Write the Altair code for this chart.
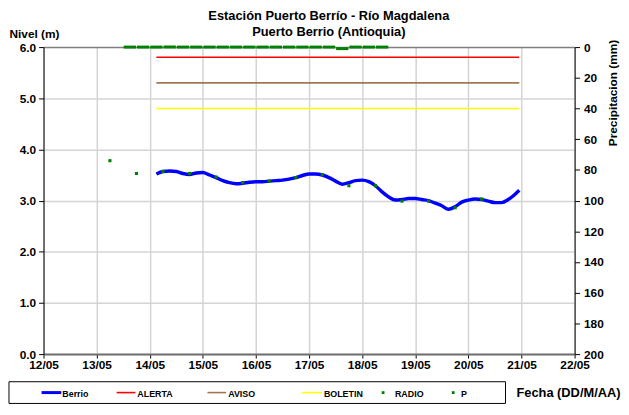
import altair as alt
import pandas as pd

# ---------------- data ----------------
berrio_time = [
    "2024-05-14T03:00", "2024-05-14T06:00", "2024-05-14T09:00", "2024-05-14T12:00",
    "2024-05-14T15:00", "2024-05-14T18:00", "2024-05-14T21:00", "2024-05-15T00:00",
    "2024-05-15T03:00", "2024-05-15T06:00", "2024-05-15T09:00", "2024-05-15T12:00",
    "2024-05-15T15:00", "2024-05-15T18:00", "2024-05-15T21:00", "2024-05-16T00:00",
    "2024-05-16T03:00", "2024-05-16T06:00", "2024-05-16T09:00", "2024-05-16T12:00",
    "2024-05-16T15:00", "2024-05-16T18:00", "2024-05-16T21:00", "2024-05-17T00:00",
    "2024-05-17T03:00", "2024-05-17T06:00", "2024-05-17T09:00", "2024-05-17T12:00",
    "2024-05-17T15:00", "2024-05-17T18:00", "2024-05-17T21:00", "2024-05-18T00:00",
    "2024-05-18T03:00", "2024-05-18T06:00", "2024-05-18T09:00", "2024-05-18T12:00",
    "2024-05-18T15:00", "2024-05-18T18:00", "2024-05-18T21:00", "2024-05-19T00:00",
    "2024-05-19T03:00", "2024-05-19T06:00", "2024-05-19T09:00", "2024-05-19T12:00",
    "2024-05-19T15:00", "2024-05-19T18:00", "2024-05-19T21:00", "2024-05-20T00:00",
    "2024-05-20T03:00", "2024-05-20T06:00", "2024-05-20T09:00", "2024-05-20T12:00",
    "2024-05-20T15:00", "2024-05-20T18:00", "2024-05-20T21:00", "2024-05-20T23:00",
]
berrio_level = [
    3.52, 3.57, 3.58, 3.57, 3.53, 3.51, 3.54, 3.55,
    3.50, 3.45, 3.39, 3.35, 3.33, 3.34, 3.36, 3.37,
    3.37, 3.38, 3.39, 3.40, 3.42, 3.45, 3.49, 3.52,
    3.52, 3.50, 3.45, 3.38, 3.32, 3.35, 3.39, 3.40,
    3.37, 3.29, 3.17, 3.07, 3.01, 3.02, 3.04, 3.04,
    3.02, 3.00, 2.95, 2.90, 2.83, 2.88, 2.97, 3.01,
    3.03, 3.02, 2.99, 2.96, 2.96, 3.02, 3.12, 3.20,
]

radio_time = [
    "2024-05-13T06:00", "2024-05-13T18:00", "2024-05-14T06:00", "2024-05-14T18:00",
    "2024-05-15T06:00", "2024-05-15T18:00", "2024-05-16T06:00", "2024-05-16T18:00",
    "2024-05-17T06:00", "2024-05-17T18:00", "2024-05-18T06:00", "2024-05-18T18:00",
    "2024-05-19T06:00", "2024-05-19T18:00", "2024-05-20T06:00",
]
radio_level = [3.78, 3.53, 3.57, 3.53, 3.46, 3.35, 3.38, 3.45,
               3.51, 3.29, 3.29, 2.99, 2.99, 2.86, 3.03]

p_time = [
    "2024-05-13T15:00", "2024-05-13T21:00", "2024-05-14T03:00", "2024-05-14T09:00",
    "2024-05-14T15:00", "2024-05-14T21:00", "2024-05-15T03:00", "2024-05-15T09:00",
    "2024-05-15T15:00", "2024-05-15T21:00", "2024-05-16T03:00", "2024-05-16T09:00",
    "2024-05-16T15:00", "2024-05-16T21:00", "2024-05-17T03:00", "2024-05-17T09:00",
    "2024-05-17T15:00", "2024-05-17T21:00", "2024-05-18T03:00", "2024-05-18T09:00",
]
p_mm = [0, 0, 0, 0, 0, 0, 0, 0, 0, 0, 0, 0, 0, 0, 0, 0, 1.0, 0, 0, 0]

threshold_names = ["ALERTA", "AVISO", "BOLETIN"]
threshold_levels = [5.8, 5.3, 4.8]
threshold_start = "2024-05-14T03:00"
threshold_end = "2024-05-20T23:00"

day_ticks = list(range(12, 23))
left_ticks = [0, 0.5, 1, 1.5, 2, 2.5, 3, 3.5, 4, 4.5, 5, 5.5, 6]
right_ticks = list(range(0, 201, 20))

legend_names = ["Berrio", "ALERTA", "AVISO", "BOLETIN", "RADIO", "P"]

# ---------------- styles ----------------
FONT = "Liberation Sans"
LBL = 12
TTL = 12
W, H = 538, 311
colors = {"Berrio": "#0000ff", "ALERTA": "#ff0000", "AVISO": "#a07850",
          "BOLETIN": "#ffff00", "RADIO": "#008000", "P": "#008000"}

berrio_df = pd.DataFrame({"t": berrio_time, "nivel": berrio_level})
radio_df = pd.DataFrame({"t": radio_time, "nivel": radio_level})
p_df = pd.DataFrame({"t": p_time, "mm": p_mm})
thr_rows = []
for n, v in zip(threshold_names, threshold_levels):
    thr_rows.append({"serie": n, "t": threshold_start, "nivel": v})
    thr_rows.append({"serie": n, "t": threshold_end, "nivel": v})
thr_df = pd.DataFrame(thr_rows)

x_values = [alt.DateTime(year=2024, month=5, date=d) for d in day_ticks]
x_enc = alt.X(
    "t:T",
    scale=alt.Scale(domain=[alt.DateTime(year=2024, month=5, date=12),
                            alt.DateTime(year=2024, month=5, date=22)]),
    axis=alt.Axis(
        values=x_values, format="%d/%m", title="Fecha (DD/M/AA)",
        labelFont=FONT, labelFontWeight="bold", labelFontSize=LBL, labelColor="black",
        titleFont=FONT, titleFontWeight="bold", titleFontSize=13, titleColor="black",
        titleAngle=0, titleAlign="right", titleBaseline="middle",
        titleX=584, titleY=39,
        domainColor="#707070", domainWidth=2,
        tickColor="black", tickSize=4, labelPadding=2,
        grid=True, gridColor="#d4d4d4", gridWidth=1.5,
        labelFlush=False, labelOverlap=False,
    ),
)

y_left_scale = alt.Scale(domain=[0, 6], nice=False, zero=False)
y_left_axis = alt.Axis(
    values=left_ticks,
    labelExpr="datum.value % 1 == 0 ? format(datum.value, '.1f') : ''",
    title="Nivel (m)", titleAngle=0, titleAlign="left", titleBaseline="alphabetic",
    titleX=-35, titleY=-10,
    labelFont=FONT, labelFontWeight="bold", labelFontSize=LBL, labelColor="black",
    titleFont=FONT, titleFontWeight="bold", titleFontSize=TTL, titleColor="black",
    domainColor="black", domainWidth=1,
    tickColor="black", tickSize=5, labelPadding=3,
    tickOpacity={"condition": {"test": "datum.value % 1 == 0", "value": 1}, "value": 0},
    grid=True, gridWidth=1.5,
    gridColor={"condition": {"test": "datum.value == 6", "value": "#808080"},
               "value": "#d4d4d4"},
    labelFlush=False,
)

berrio_layer = alt.Chart(berrio_df).mark_line(
    color=colors["Berrio"], strokeWidth=3.5, interpolate="monotone"
).encode(x=x_enc, y=alt.Y("nivel:Q", scale=y_left_scale, axis=y_left_axis))

thr_layer = alt.Chart(thr_df).mark_line(strokeWidth=1.6).encode(
    x=alt.X("t:T"),
    y=alt.Y("nivel:Q"),
    color=alt.Color("serie:N", scale=alt.Scale(domain=threshold_names,
                    range=[colors[n] for n in threshold_names]), legend=None),
)

radio_layer = alt.Chart(radio_df).mark_square(size=10, color=colors["RADIO"], opacity=1).encode(
    x=alt.X("t:T"), y=alt.Y("nivel:Q")
)

left = alt.layer(thr_layer, berrio_layer, radio_layer)

p_layer = alt.Chart(p_df).mark_tick(
    orient="horizontal", size=12.5, thickness=3, color=colors["P"], opacity=1
).encode(
    x=alt.X("t:T"),
    y=alt.Y("mm:Q", scale=alt.Scale(domain=[0, 200], reverse=True, nice=False),
            axis=alt.Axis(
                orient="right", values=right_ticks, title="Precipitacion (mm)",
                labelFont=FONT, labelFontWeight="bold", labelFontSize=LBL, labelColor="black",
                titleFont=FONT, titleFontWeight="bold", titleFontSize=TTL, titleColor="black",
                titleAngle=270, titleAlign="center", titleBaseline="middle",
                titleX=38, titleY=46,
                domainColor="black", tickColor="black", tickSize=5, labelPadding=4,
                grid=False, labelFlush=False,
            )),
)

# ---------------- custom legend ----------------
one = pd.DataFrame({"a": [0]})
LY = 350
legend_layers = [
    alt.Chart(one).mark_rect(fill="white", stroke="black", strokeWidth=1).encode(
        x=alt.value(-35), x2=alt.value(468), y=alt.value(339), y2=alt.value(361))
]
line_pos = {"Berrio": (-2, 18), "ALERTA": (74, 93), "AVISO": (166, 185), "BOLETIN": (262, 282)}
text_pos = {"Berrio": 19, "ALERTA": 95, "AVISO": 187, "BOLETIN": 284, "RADIO": 356, "P": 423}
dot_pos = {"RADIO": 344, "P": 415}
for n in legend_names:
    if n in line_pos:
        x1, x2 = line_pos[n]
        legend_layers.append(
            alt.Chart(one).mark_rule(color=colors[n], strokeWidth=3 if n == "Berrio" else 1.6).encode(
                x=alt.value(x1), x2=alt.value(x2), y=alt.value(LY)))
    else:
        legend_layers.append(
            alt.Chart(one).mark_square(size=8, color=colors[n], opacity=1).encode(
                x=alt.value(dot_pos[n]), y=alt.value(LY)))
    legend_layers.append(
        alt.Chart(one).mark_text(text=n, font=FONT, fontWeight="bold", fontSize=9,
                                 align="left", baseline="middle", color="black").encode(
            x=alt.value(text_pos[n]), y=alt.value(LY + 1)))

chart = alt.layer(left, p_layer, *legend_layers).resolve_scale(
    y="independent", color="independent"
).properties(
    width=W, height=H,
    title=alt.Title(["Estación Puerto Berrío - Río Magdalena", "Puerto Berrio (Antioquia)"],
                    font=FONT, fontWeight="bold", fontSize=13, color="black",
                    anchor="middle", dx=20, offset=-12, lineHeight=16),
    autosize=alt.AutoSizeParams(type="none"),
    padding={"left": 36, "top": 37, "right": 47, "bottom": 51},
).configure_view(stroke=None).configure(background="white")

chart.save("out.html", embed_options={"renderer": "svg", "actions": False})
